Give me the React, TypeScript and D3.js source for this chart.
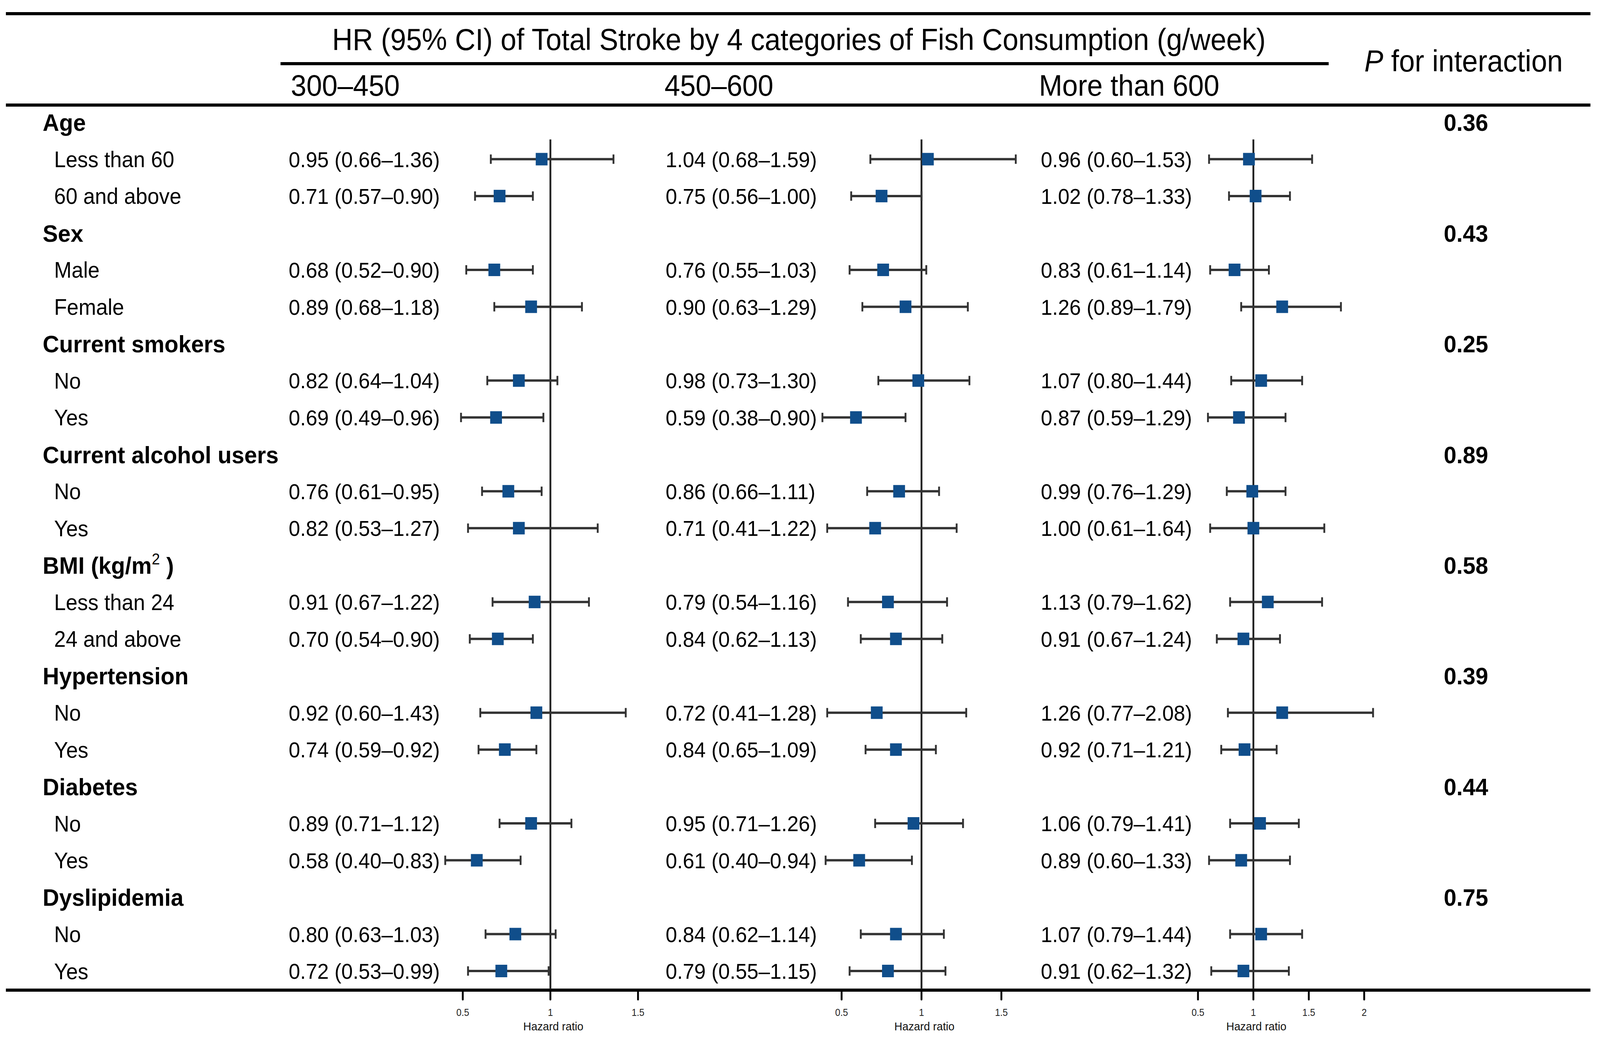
import React from "react";
import * as d3 from "d3";

// subgroup structure
const groups = [
  "Age",
  "Sex",
  "Current smokers",
  "Current alcohol users",
  "BMI",
  "Hypertension",
  "Diabetes",
  "Dyslipidemia",
];
const subgroups = [
  ["Less than 60", "60 and above"],
  ["Male", "Female"],
  ["No", "Yes"],
  ["No", "Yes"],
  ["Less than 24", "24 and above"],
  ["No", "Yes"],
  ["No", "Yes"],
  ["No", "Yes"],
];
const pInteraction = ["0.36", "0.43", "0.25", "0.89", "0.58", "0.39", "0.44", "0.75"];

const categories = ["300–450", "450–600", "More than 600"];

// [HR, lower, upper] per subgroup row, one list per category
const hr300 = [
  [0.95, 0.66, 1.36], [0.71, 0.57, 0.9],
  [0.68, 0.52, 0.9], [0.89, 0.68, 1.18],
  [0.82, 0.64, 1.04], [0.69, 0.49, 0.96],
  [0.76, 0.61, 0.95], [0.82, 0.53, 1.27],
  [0.91, 0.67, 1.22], [0.7, 0.54, 0.9],
  [0.92, 0.6, 1.43], [0.74, 0.59, 0.92],
  [0.89, 0.71, 1.12], [0.58, 0.4, 0.83],
  [0.8, 0.63, 1.03], [0.72, 0.53, 0.99],
];
const hr450 = [
  [1.04, 0.68, 1.59], [0.75, 0.56, 1.0],
  [0.76, 0.55, 1.03], [0.9, 0.63, 1.29],
  [0.98, 0.73, 1.3], [0.59, 0.38, 0.9],
  [0.86, 0.66, 1.11], [0.71, 0.41, 1.22],
  [0.79, 0.54, 1.16], [0.84, 0.62, 1.13],
  [0.72, 0.41, 1.28], [0.84, 0.65, 1.09],
  [0.95, 0.71, 1.26], [0.61, 0.4, 0.94],
  [0.84, 0.62, 1.14], [0.79, 0.55, 1.15],
];
const hr600 = [
  [0.96, 0.6, 1.53], [1.02, 0.78, 1.33],
  [0.83, 0.61, 1.14], [1.26, 0.89, 1.79],
  [1.07, 0.8, 1.44], [0.87, 0.59, 1.29],
  [0.99, 0.76, 1.29], [1.0, 0.61, 1.64],
  [1.13, 0.79, 1.62], [0.91, 0.67, 1.24],
  [1.26, 0.77, 2.08], [0.92, 0.71, 1.21],
  [1.06, 0.79, 1.41], [0.89, 0.6, 1.33],
  [1.07, 0.79, 1.44], [0.91, 0.62, 1.32],
];
const ticks1 = [0.5, 1, 1.5];
const ticks2 = [0.5, 1, 1.5];
const ticks3 = [0.5, 1, 1.5, 2];

const W = 4346;
const H = 2655;
const FONT = "'Liberation Sans', Arial, Helvetica, sans-serif";
const BLUE = "#104E8B";

const fmt = (v: number) => v.toFixed(2);

const App = () => {
  // flatten rows: group header followed by its subgroups
  const rows: any[] = [];
  let k = 0;
  groups.forEach((g, gi) => {
    rows.push({ id: "g" + gi, type: "group", label: g, p: pInteraction[gi] });
    subgroups[gi].forEach((s, si) => {
      rows.push({ id: "s" + gi + "_" + si, type: "sub", label: s, idx: k });
      k++;
    });
  });

  const y = d3
    .scalePoint()
    .domain(rows.map((r) => r.id))
    .range([313, 2486]);

  const panels = [
    { data: hr300, ticks: ticks1, textX: 784, headX: 790, x: d3.scaleLinear().domain([0.5, 1.5]).range([1257, 1733]) },
    { data: hr450, ticks: ticks2, textX: 1808, headX: 1805, x: d3.scaleLinear().domain([0.5, 1.5]).range([2286, 2720]) },
    { data: hr600, ticks: ticks3, textX: 2827, headX: 2822, x: d3.scaleLinear().domain([0.5, 1.5]).range([3254, 3555]) },
  ];

  const axisY = 2535;

  // fill the whole window whatever its real size
  return (
    <div style={{ position: "fixed", left: 0, top: 0, width: "100vw", height: "100vh", overflow: "hidden", background: "#fff" }}>
      <svg
        width="100%"
        height="100%"
        viewBox={`0 0 ${W} ${H}`}
        preserveAspectRatio="none"
        style={{ display: "block" }}
        fontFamily={FONT}
      >
        <rect width={W} height={H} fill="#fff" />
        {/* header rules */}
        <line x1={16} x2={4320} y1={35} y2={35} stroke="#000" strokeWidth={8} />
        <line x1={762} x2={3609} y1={163} y2={163} stroke="#000" strokeWidth={8} />
        <line x1={16} x2={4320} y1={269} y2={269} stroke="#000" strokeWidth={8} />
        <line x1={16} x2={4320} y1={axisY} y2={axisY} stroke="#000" strokeWidth={8} />

        <text x={2170} y={128} fontSize={77} textAnchor="middle" fill="#000">
          HR (95% CI) of Total Stroke by 4 categories of Fish Consumption (g/week)
        </text>
        <text x={3706} y={183} fontSize={77} fill="#000">
          <tspan fontStyle="italic">P</tspan> for interaction
        </text>
        {categories.map((c, i) => (
          <text key={c} x={panels[i].headX} y={245} fontSize={76} fill="#000">
            {c}
          </text>
        ))}

        {/* row labels and P values */}
        {rows.map((r) =>
          r.type === "group" ? (
            <g key={r.id}>
              <text x={116} y={y(r.id)} dy="0.36em" fontSize={62} fontWeight="bold" fill="#000">
                {r.label === "BMI" ? (
                  <>
                    BMI (kg/m
                    <tspan fontSize={40} dy="-0.6em" fontWeight="normal">2</tspan>
                    <tspan dy="0.4em"> )</tspan>
                  </>
                ) : (
                  r.label
                )}
              </text>
              <text x={3982} y={y(r.id)} dy="0.36em" fontSize={62} fontWeight="bold" textAnchor="middle" fill="#000">
                {r.p}
              </text>
            </g>
          ) : (
            <text key={r.id} x={147} y={y(r.id)} dy="0.36em" fontSize={57} fill="#000">
              {r.label}
            </text>
          )
        )}

        {/* panels */}
        {panels.map((p, pi) => (
          <g key={pi}>
            <line x1={p.x(1)} x2={p.x(1)} y1={357} y2={axisY} stroke="#222" strokeWidth={5} />
            {rows
              .filter((r) => r.type === "sub")
              .map((r) => {
                const [hr, lo, hi] = p.data[r.idx];
                const cy = y(r.id) as number;
                return (
                  <g key={r.id}>
                    <text x={p.textX} y={cy} dy="0.36em" fontSize={56} fill="#000">
                      {`${fmt(hr)} (${fmt(lo)}–${fmt(hi)})`}
                    </text>
                    <line x1={p.x(lo)} x2={p.x(hi)} y1={cy} y2={cy} stroke="#333" strokeWidth={6} />
                    <line x1={p.x(lo)} x2={p.x(lo)} y1={cy - 12} y2={cy + 12} stroke="#333" strokeWidth={5} />
                    <line x1={p.x(hi)} x2={p.x(hi)} y1={cy - 12} y2={cy + 12} stroke="#333" strokeWidth={5} />
                    <rect x={p.x(hr) - 16} y={cy - 16} width={32} height={32} fill={BLUE} />
                  </g>
                );
              })}
            {p.ticks.map((t) => (
              <g key={t}>
                <line x1={p.x(t)} x2={p.x(t)} y1={axisY} y2={axisY + 24} stroke="#000" strokeWidth={5} strokeLinecap="round" />
                <text x={p.x(t)} y={2601} fontSize={25} textAnchor="middle" fill="#222">
                  {t}
                </text>
              </g>
            ))}
            <text x={p.x(1) + 8} y={2638} fontSize={30} textAnchor="middle" fill="#111">
              Hazard ratio
            </text>
          </g>
        ))}
      </svg>
    </div>
  );
};

export default App;
